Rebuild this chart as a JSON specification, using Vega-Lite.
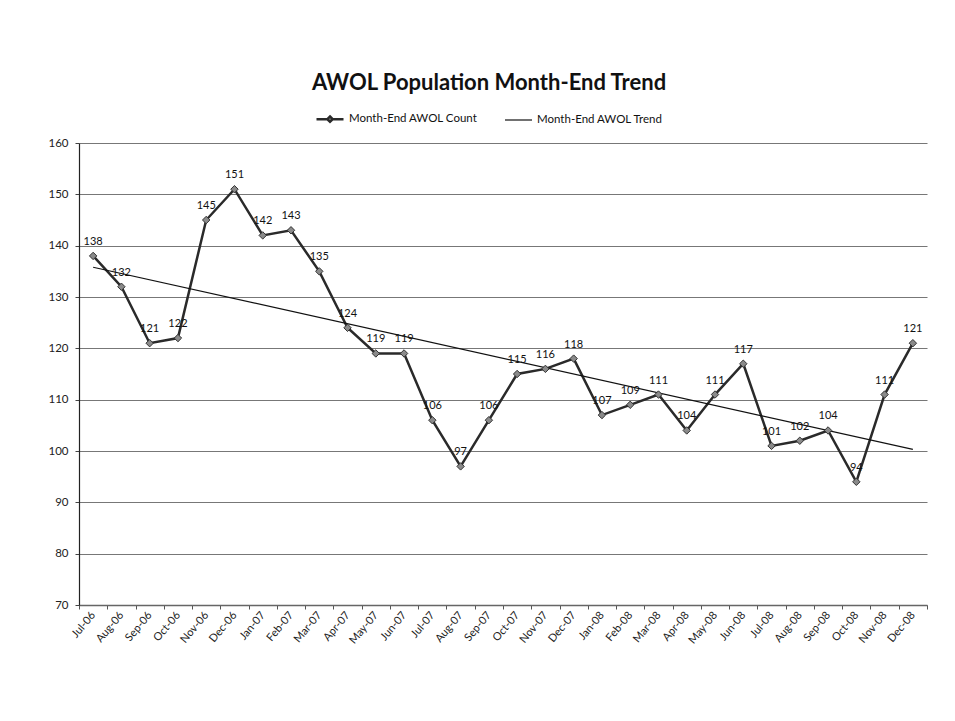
{
  "$schema": "https://vega.github.io/schema/vega-lite/v6.json",
  "width": 848,
  "height": 462,
  "autosize": {"type": "none"},
  "padding": {"left": 79, "top": 143, "right": 28, "bottom": 116},
  "background": "white",
  "config": {
    "font": "Lato",
    "view": {"stroke": null},
    "axis": {"labelFont": "Lato", "labelColor": "#222", "titleFont": "Lato"}
  },
  "title": {
    "text": "AWOL Population Month-End Trend",
    "font": "Lato",
    "fontSize": 22,
    "fontWeight": "bold",
    "color": "#111",
    "anchor": "middle",
    "dx": -14,
    "offset": 9
  },
  "data": {
    "values": [
      {"month": "Jul-06", "value": 138, "series": "Month-End AWOL Count"},
      {"month": "Aug-06", "value": 132, "series": "Month-End AWOL Count"},
      {"month": "Sep-06", "value": 121, "series": "Month-End AWOL Count"},
      {"month": "Oct-06", "value": 122, "series": "Month-End AWOL Count"},
      {"month": "Nov-06", "value": 145, "series": "Month-End AWOL Count"},
      {"month": "Dec-06", "value": 151, "series": "Month-End AWOL Count"},
      {"month": "Jan-07", "value": 142, "series": "Month-End AWOL Count"},
      {"month": "Feb-07", "value": 143, "series": "Month-End AWOL Count"},
      {"month": "Mar-07", "value": 135, "series": "Month-End AWOL Count"},
      {"month": "Apr-07", "value": 124, "series": "Month-End AWOL Count"},
      {"month": "May-07", "value": 119, "series": "Month-End AWOL Count"},
      {"month": "Jun-07", "value": 119, "series": "Month-End AWOL Count"},
      {"month": "Jul-07", "value": 106, "series": "Month-End AWOL Count"},
      {"month": "Aug-07", "value": 97, "series": "Month-End AWOL Count"},
      {"month": "Sep-07", "value": 106, "series": "Month-End AWOL Count"},
      {"month": "Oct-07", "value": 115, "series": "Month-End AWOL Count"},
      {"month": "Nov-07", "value": 116, "series": "Month-End AWOL Count"},
      {"month": "Dec-07", "value": 118, "series": "Month-End AWOL Count"},
      {"month": "Jan-08", "value": 107, "series": "Month-End AWOL Count"},
      {"month": "Feb-08", "value": 109, "series": "Month-End AWOL Count"},
      {"month": "Mar-08", "value": 111, "series": "Month-End AWOL Count"},
      {"month": "Apr-08", "value": 104, "series": "Month-End AWOL Count"},
      {"month": "May-08", "value": 111, "series": "Month-End AWOL Count"},
      {"month": "Jun-08", "value": 117, "series": "Month-End AWOL Count"},
      {"month": "Jul-08", "value": 101, "series": "Month-End AWOL Count"},
      {"month": "Aug-08", "value": 102, "series": "Month-End AWOL Count"},
      {"month": "Sep-08", "value": 104, "series": "Month-End AWOL Count"},
      {"month": "Oct-08", "value": 94, "series": "Month-End AWOL Count"},
      {"month": "Nov-08", "value": 111, "series": "Month-End AWOL Count"},
      {"month": "Dec-08", "value": 121, "series": "Month-End AWOL Count"},
      {"month": "Jul-06", "value": 135.8, "series": "Month-End AWOL Trend"},
      {"month": "Dec-08", "value": 100.3, "series": "Month-End AWOL Trend"}
    ]
  },
  "encoding": {
    "x": {
      "field": "month",
      "type": "ordinal",
      "scale": {
        "type": "band",
        "paddingInner": 0,
        "paddingOuter": 0,
        "domain": ["Jul-06","Aug-06","Sep-06","Oct-06","Nov-06","Dec-06","Jan-07","Feb-07","Mar-07","Apr-07","May-07","Jun-07","Jul-07","Aug-07","Sep-07","Oct-07","Nov-07","Dec-07","Jan-08","Feb-08","Mar-08","Apr-08","May-08","Jun-08","Jul-08","Aug-08","Sep-08","Oct-08","Nov-08","Dec-08"]
      },
      "axis": {
        "title": null,
        "labelAngle": -50,
        "labelFontSize": 11,
        "labelPadding": 4,
        "tickBand": "extent",
        "tickSize": 4,
        "tickColor": "#555",
        "domainColor": "#666",
        "domainWidth": 1.5,
        "grid": false
      }
    },
    "y": {
      "field": "value",
      "type": "quantitative",
      "scale": {"domain": [70, 160], "nice": false, "zero": false},
      "axis": {
        "title": null,
        "values": [70, 80, 90, 100, 110, 120, 130, 140, 150, 160],
        "labelFontSize": 11.5,
        "labelPadding": 7,
        "tickSize": 4,
        "tickColor": "#444",
        "domainColor": "#222",
        "domainWidth": 1.2,
        "gridColor": "#777",
        "gridWidth": 1.2
      }
    }
  },
  "layer": [
    {
      "mark": {"type": "line", "interpolate": "linear"},
      "encoding": {
        "color": {
          "field": "series",
          "type": "nominal",
          "scale": {"domain": ["Month-End AWOL Count", "Month-End AWOL Trend"], "range": ["#2a2a2a", "#111111"]},
          "legend": {
            "title": null,
            "orient": "none",
            "legendX": 236,
            "legendY": -39,
            "direction": "horizontal",
            "labelFont": "Lato",
            "labelFontSize": 11.5,
            "labelColor": "#111",
            "symbolSize": 729,
            "columnPadding": 24,
            "labelOffset": 4,
            "symbolStrokeWidth": 2,
            "symbolFillColor": "#888",
            "encode": {
              "symbols": {
                "update": {
                  "shape": {"signal": "datum.value === 'Month-End AWOL Count' ? 'M-1,0H-0.2M0.2,0H1M0,-0.2L0.2,0L0,0.2L-0.2,0Z' : 'M-1,0H1'"},
                  "strokeWidth": {"signal": "datum.value === 'Month-End AWOL Count' ? 2 : 1.2"}
                }
              }
            }
          }
        },
        "strokeWidth": {
          "field": "series",
          "type": "nominal",
          "scale": {"domain": ["Month-End AWOL Count", "Month-End AWOL Trend"], "range": [2.5, 1.2]},
          "legend": null
        }
      }
    },
    {
      "transform": [{"filter": "datum.series === 'Month-End AWOL Count'"}],
      "mark": {"type": "point", "shape": "diamond", "filled": true, "fill": "#8a8a8a", "stroke": "#333", "strokeWidth": 1, "size": 55, "opacity": 1}
    },
    {
      "transform": [{"filter": "datum.series === 'Month-End AWOL Count'"}],
      "mark": {"type": "text", "dy": -14, "fontSize": 11, "font": "Lato", "fill": "#111"},
      "encoding": {"text": {"field": "value", "type": "quantitative"}}
    }
  ]
}
